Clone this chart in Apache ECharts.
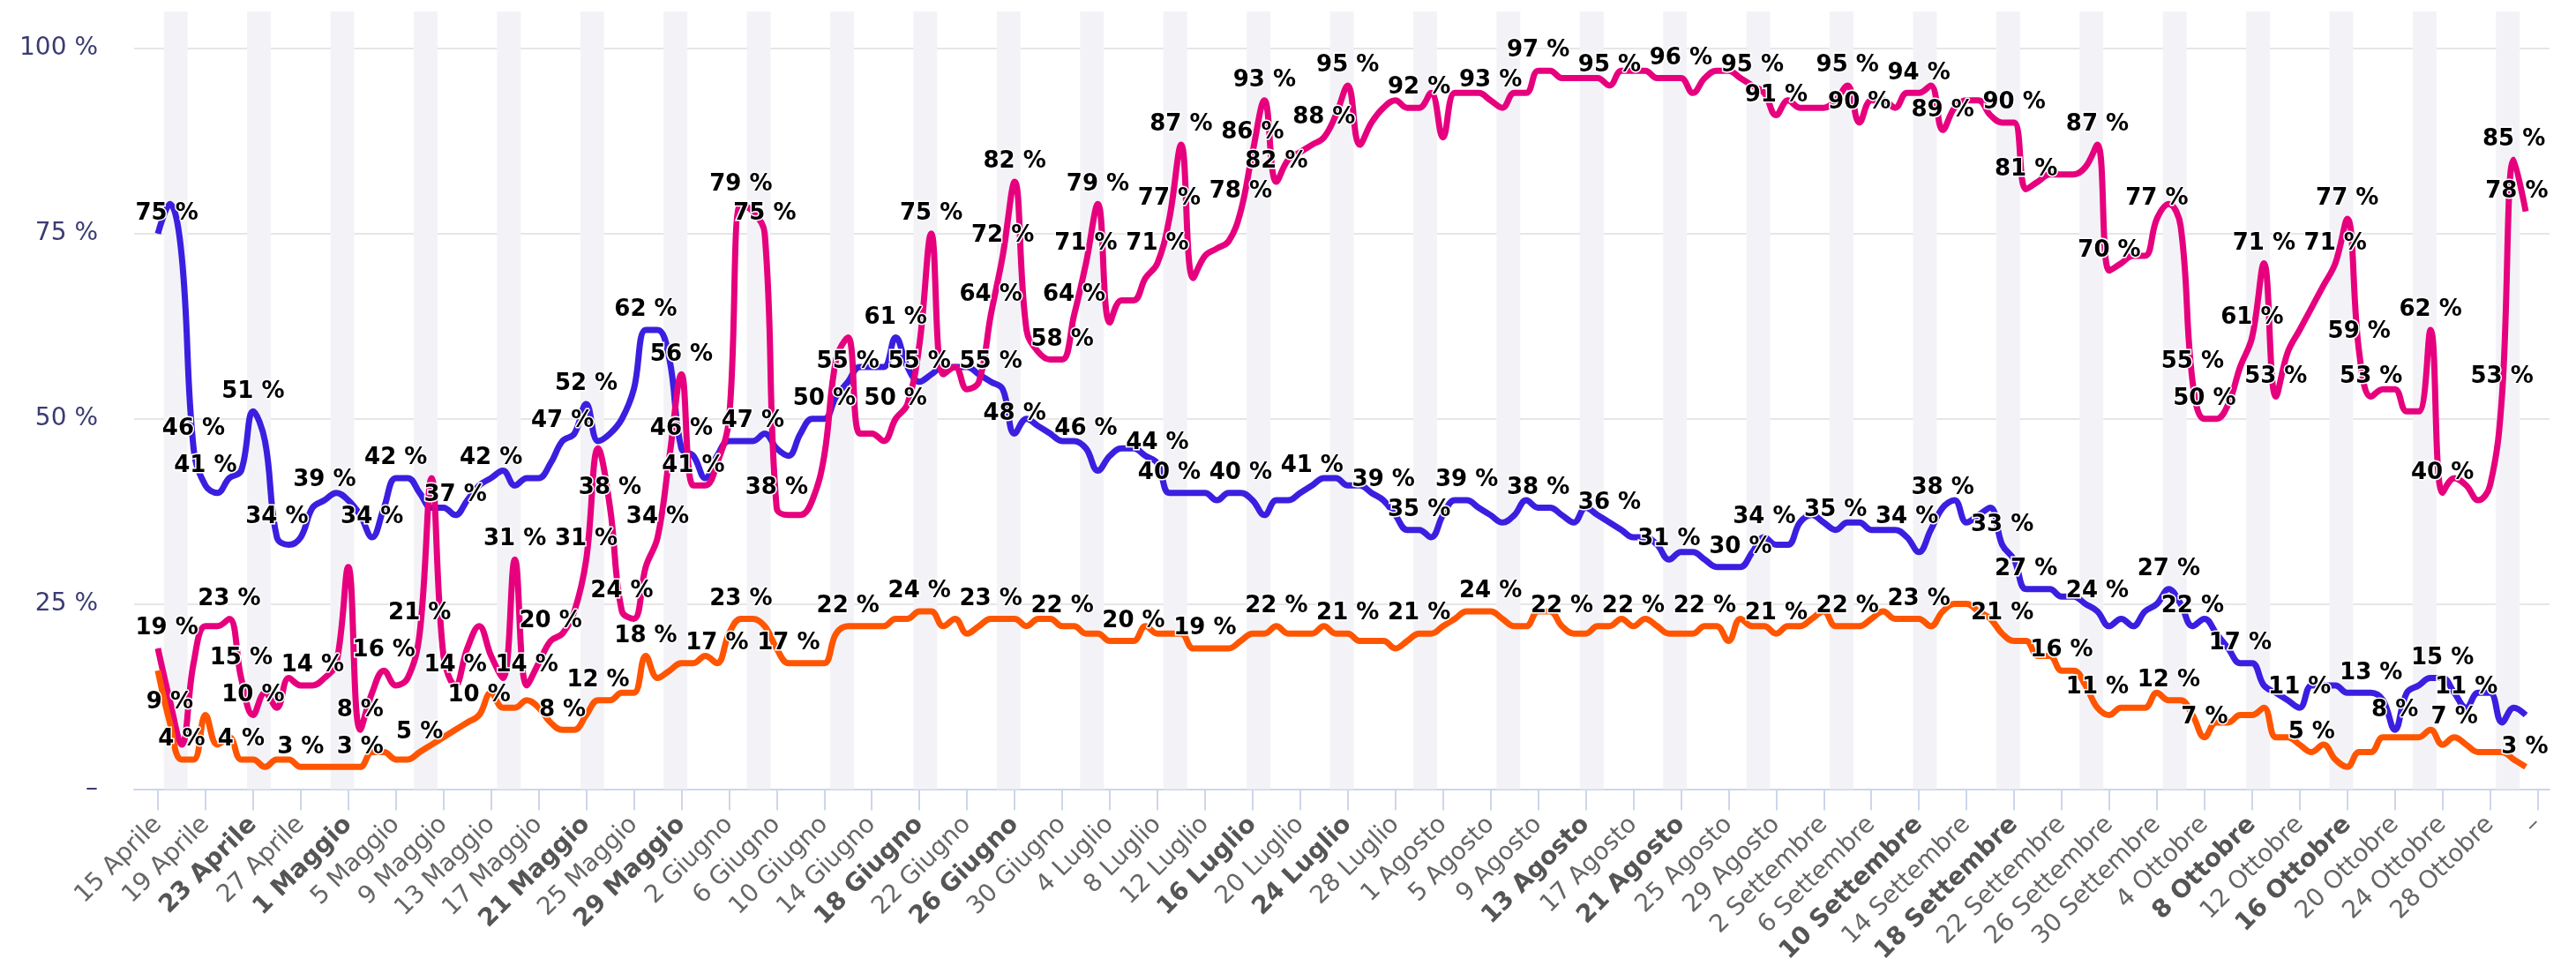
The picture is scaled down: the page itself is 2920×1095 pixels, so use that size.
<!DOCTYPE html>
<html><head><meta charset="utf-8">
<script src="https://cdn.jsdelivr.net/npm/echarts@6/dist/echarts.min.js"></script>
<style>html,body{margin:0;padding:0;background:#fff}#c{width:2920px;height:1095px}</style>
</head><body><div id="c"></div>
<script>
// ---- DATA ----
// x ticks every 4 days starting 15 Aprile; last tick shown as a dash
const tickLabels = ["15 Aprile","19 Aprile","23 Aprile","27 Aprile","1 Maggio","5 Maggio","9 Maggio","13 Maggio","17 Maggio","21 Maggio","25 Maggio","29 Maggio","2 Giugno","6 Giugno","10 Giugno","14 Giugno","18 Giugno","22 Giugno","26 Giugno","30 Giugno","4 Luglio","8 Luglio","12 Luglio","16 Luglio","20 Luglio","24 Luglio","28 Luglio","1 Agosto","5 Agosto","9 Agosto","13 Agosto","17 Agosto","21 Agosto","25 Agosto","29 Agosto","2 Settembre","6 Settembre","10 Settembre","14 Settembre","18 Settembre","22 Settembre","26 Settembre","30 Settembre","4 Ottobre","8 Ottobre","12 Ottobre","16 Ottobre","20 Ottobre","24 Ottobre","28 Ottobre","–"];
const boldTicks = ["23 Aprile","1 Maggio","21 Maggio","29 Maggio","18 Giugno","26 Giugno","16 Luglio","24 Luglio","13 Agosto","21 Agosto","10 Settembre","18 Settembre","8 Ottobre","16 Ottobre"];
const yTickLabels = {0:"–",25:"25 %",50:"50 %",75:"75 %",100:"100 %"};

// daily values, 15 Aprile .. 31 Ottobre
const blue = [75,79,72,46,41,40,42,43,51,47,
34,33,34,38,39,40,39,37,34,38,
42,42,40,38,38,37,39,41,42,43,
41,42,42,44,47,48,52,47,48,50,
54,62,62,58,46,45,42,45,47,47,
47,48,46,45,48,50,50,53,55,57,
57,57,61,57,55,56,57,57,57,56,
55,54,48,50,49,48,47,47,46,43,
45,46,46,45,44,40,40,40,40,39,
40,40,39,37,39,39,40,41,42,42,
41,41,40,39,37,35,35,34,37,39,
39,38,37,36,37,39,38,38,37,36,
38,37,36,35,34,34,33,31,32,32,
31,30,30,30,32,34,33,33,36,37,
36,35,36,36,35,35,35,34,32,35,
38,39,36,37,38,33,31,27,27,27,
26,26,25,24,22,23,22,24,25,27,
25,22,23,21,19,17,17,14,13,12,
11,14,14,14,13,13,13,12,8,13,
14,15,15,13,11,13,13,9,11,10];
const magenta = [19,12,6,17,22,22,23,15,10,13,
11,15,14,14,15,17,30,8,13,16,
14,15,21,42,18,14,19,22,18,15,
31,14,17,20,21,24,31,46,38,24,
23,30,34,45,56,41,41,44,50,79,
78,75,38,37,37,39,45,58,61,48,
48,47,50,52,60,75,56,57,54,55,
64,72,82,62,59,58,58,64,71,79,
63,66,66,69,71,77,87,69,72,73,
74,78,86,93,82,85,86,87,88,91,
95,87,90,92,93,92,92,94,88,94,
94,94,93,92,94,94,97,97,96,96,
96,96,95,97,97,97,96,96,96,94,
96,97,97,96,95,94,91,93,92,92,
92,93,95,90,93,93,92,94,94,95,
89,92,93,93,91,90,90,81,82,83,
83,83,84,87,70,71,72,72,77,79,
76,55,50,50,52,57,61,71,53,59,
62,65,68,71,77,59,53,54,54,51,
51,62,40,42,41,39,41,53,85,78];
const orange = [16,9,4,4,10,6,7,4,4,3,
4,4,3,3,3,3,3,3,5,5,
4,4,5,6,7,8,9,10,13,11,
11,12,11,9,8,8,10,12,12,13,
13,18,15,16,17,17,18,17,21,23,
23,22,19,17,17,17,17,21,22,22,
22,22,23,23,24,24,22,23,21,22,
23,23,23,22,23,23,22,22,21,21,
20,20,20,22,21,21,21,19,19,19,
19,20,21,21,22,21,21,21,22,21,
21,20,20,20,19,20,21,21,22,23,
24,24,24,23,22,22,24,24,22,21,
21,22,22,23,22,23,22,21,21,21,
22,22,20,23,22,22,21,22,22,23,
24,22,22,22,23,24,23,23,23,22,
24,25,25,24,23,21,20,20,18,18,
16,16,14,11,10,11,11,11,13,12,
12,10,7,9,9,10,10,11,7,7,
6,5,6,4,3,5,5,7,7,7,
7,8,6,7,6,5,5,5,4,3];

// indices (day from 15 Aprile) whose value label is visible
const blueLabelIdx = [0,3,4,8,10,14,18,20,25,28,34,36,41,44,50,56,58,62,64,70,72,78,84,85,91,97,103,106,110,116,122,127,133,135,141,147,150,155,157,163,169,171,175,180,186,188,192,194];
const magentaLabelIdx = [0,6,7,8,13,17,19,22,25,30,31,33,36,38,39,42,44,45,49,51,52,62,65,70,71,72,76,77,78,79,84,85,86,91,92,93,94,98,100,106,112,116,122,128,134,136,142,143,148,150,156,157,163,164,168,171,172,176,177,178,183,184,185,186,191,192,197,198,199];
const orangeLabelIdx = [1,2,7,12,17,22,27,34,37,41,47,49,53,58,64,70,76,82,88,94,100,106,112,118,124,130,136,142,148,155,160,163,169,172,181,193,199];

// ---- AXIS CATEGORIES (daily, 13 Aprile .. 2 Novembre 2022) ----
const monthNames = ["Gennaio","Febbraio","Marzo","Aprile","Maggio","Giugno","Luglio","Agosto","Settembre","Ottobre","Novembre","Dicembre"];
const categories = [];
const weekendStart = [];
for (let i = 0; i < 204; i++) {
  const dt = new Date(2022, 3, 13 + i);
  categories.push(dt.getDate() + " " + monthNames[dt.getMonth()]);
  if (dt.getDay() === 6) weekendStart.push(i);
}
const LEAD = 2; // 13-14 Aprile precede the first observation
const isTick = (idx) => idx >= LEAD && (idx - LEAD) % 4 === 0;

function mkData(values, labelIdx) {
  const s = new Set(labelIdx);
  const out = [];
  for (let i = 0; i < LEAD; i++) out.push(null);
  values.forEach((v, i) => out.push(s.has(i) ? { value: v, label: { show: true } } : v));
  return out;
}

const GRID = { left: 152, right: 30, top: 13, bottom: 196 };
const chart = echarts.init(document.getElementById('c'), null, { renderer: 'canvas' });
const FONT = 'DejaVu Sans';

const labelStyle = {
  show: false, position: 'top', distance: 9,
  formatter: (p) => p.value + ' %',
  fontFamily: FONT, fontSize: 26, fontWeight: 'bold', color: '#000',
  textBorderColor: '#fff', textBorderWidth: 3
};

function lineSeries(name, values, labelIdx, color) {
  return {
    name, type: 'line', data: mkData(values, labelIdx),
    smooth: 0.4, symbol: 'circle', symbolSize: 1, showSymbol: true, showAllSymbol: true,
    connectNulls: false,
    lineStyle: { color, width: 7 }, itemStyle: { color },
    label: labelStyle,
    labelLayout: (params) => {
      const r = params.labelRect;
      const L = GRID.left, R = 2920 - GRID.right;
      if (r.x < L) return { dx: L - r.x };
      if (r.x + r.width > R) return { dx: R - (r.x + r.width) };
      return {};
    },
    z: 3
  };
}

chart.setOption({
  animation: false,
  backgroundColor: '#fff',
  grid: GRID,
  xAxis: [{
    type: 'category', data: categories, boundaryGap: false,
    axisLine: { lineStyle: { color: '#ccd6eb', width: 2 } },
    axisTick: { interval: (idx) => isTick(idx), length: 24, lineStyle: { color: '#ccd6eb', width: 2 } },
    axisLabel: {
      interval: (idx) => isTick(idx), rotate: 45, margin: 36,
      fontFamily: FONT, fontSize: 28, color: '#666',
      formatter: (val, idx) => {
        const t = tickLabels[(idx - LEAD) / 4];
        if (t === undefined) return '';
        return boldTicks.includes(t) ? '{b|' + t + '}' : t;
      },
      rich: { b: { fontFamily: FONT, fontSize: 28, fontWeight: 'bold', color: '#555' } }
    },
    splitLine: { show: false }
  }, {
    type: 'value', min: 0, max: categories.length - 1, show: false
  }],
  yAxis: {
    type: 'value', min: 0, max: 105, interval: 25,
    axisLine: { show: false }, axisTick: { show: false },
    axisLabel: {
      formatter: (v) => yTickLabels[v] !== undefined ? yTickLabels[v] : '',
      fontFamily: FONT, fontSize: 28, color: '#3b3b72', margin: 41, showMaxLabel: false
    },
    splitLine: { lineStyle: { color: '#e6e6e6', width: 2 }, showMaxLine: false }
  },
  series: [
    {
      type: 'line', xAxisIndex: 1, data: [], silent: true, z: 0,
      markArea: {
        silent: true,
        itemStyle: { color: '#f3f3f7' },
        data: weekendStart.map(i => [{ xAxis: i - 0.5 }, { xAxis: i + 1.5 }])
      }
    },
    lineSeries('Blu', blue, blueLabelIdx, '#3b1fe0'),
    lineSeries('Magenta', magenta, magentaLabelIdx, '#e6007e'),
    lineSeries('Arancio', orange, orangeLabelIdx, '#ff5500')
  ]
});
</script>
</body></html>
